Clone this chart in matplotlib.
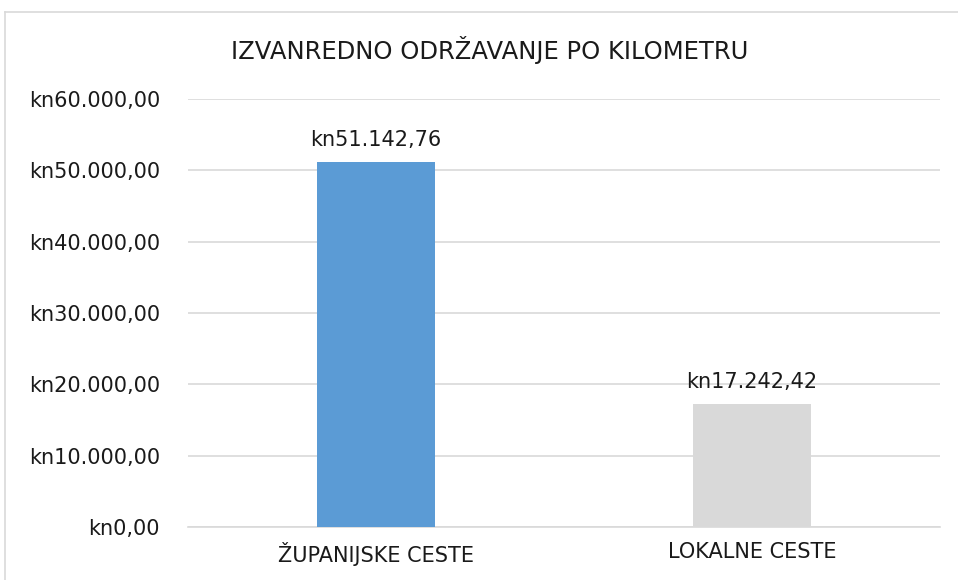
import matplotlib.pyplot as plt
from matplotlib.lines import Line2D
from matplotlib.ticker import FuncFormatter

categories = ["ŽUPANIJSKE CESTE", "LOKALNE CESTE"]
values = [51142.76, 17242.42]
bar_colors = ["#5b9bd5", "#d9d9d9"]
title = "IZVANREDNO ODRŽAVANJE PO KILOMETRU"


def kn(v, pos=None):
    s = f"{v:,.2f}"
    s = s.replace(",", "X").replace(".", ",").replace("X", ".")
    return "kn" + s


plt.rcParams["font.family"] = ["DejaVu Sans"]

fig = plt.figure(figsize=(9.58, 5.8), dpi=100)
ax = fig.add_axes([0.196, 0.0914, 0.785, 0.7376])

x = range(len(categories))
ax.bar(x, values, width=0.314, color=bar_colors, zorder=3)
for xi, v in zip(x, values):
    ax.annotate(kn(v), (xi, v), xytext=(0, 9), textcoords="offset points",
                ha="center", va="bottom", fontsize=15, color="#1a1a1a")

ax.set_ylim(0, 60000)
ax.set_xlim(-0.5, 1.5)
ax.set_yticks(range(0, 60001, 10000))
ax.yaxis.set_major_formatter(FuncFormatter(kn))
ax.set_xticks(list(x))
ax.set_xticklabels(categories)
ax.tick_params(axis="both", length=0, labelsize=15, colors="#1a1a1a")
ax.tick_params(axis="y", pad=20)
ax.tick_params(axis="x", pad=11)
ax.grid(axis="y", color="#d9d9d9", linewidth=1.2, zorder=0)
for side in ["top", "right", "left"]:
    ax.spines[side].set_visible(False)
ax.spines["bottom"].set_color("#d9d9d9")
ax.spines["bottom"].set_linewidth(1.2)

fig.text(0.511, 0.913, title, ha="center", va="center", fontsize=17.5, color="#1a1a1a")

# outer chart border (cropped at right and bottom)
fig.add_artist(Line2D([5 / 958, 5 / 958], [0, 1 - 12 / 580], color="#d9d9d9", linewidth=1.2))
fig.add_artist(Line2D([5 / 958, 1], [1 - 12 / 580, 1 - 12 / 580], color="#d9d9d9", linewidth=1.2))

fig.savefig("out.png", dpi=100)
